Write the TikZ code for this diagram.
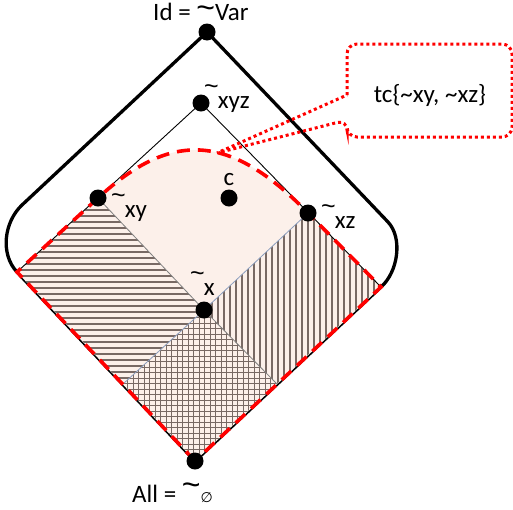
\documentclass[tikz,border=0pt]{standalone}
\usepackage{fontspec}
\setmainfont{Carlito}
\newfontfamily\djv{DejaVu Sans}
\newfontfamily\tfont{Liberation Sans}
\usetikzlibrary{calc}
\definecolor{fillpink}{RGB}{252,240,234}
\definecolor{hatchc}{RGB}{120,105,100}
\definecolor{edgeblue}{RGB}{140,158,190}
\newcommand\rtl{\raisebox{0.55em}{\tfont\textasciitilde}\kern-1pt}
\newcommand\bigtil[1]{{\tfont\fontsize{32}{32}\selectfont\smash{\raisebox{#1}{\textasciitilde}}}}
\begin{document}
\begin{tikzpicture}[x=1pt,y=-1pt,
  dot/.style={circle,fill=black,inner sep=0pt,minimum size=17pt},
  lbl/.style={inner sep=0pt,anchor=base west,font=\fontsize{25}{30}\selectfont},
  lattice/.style={line width=0.9pt,black},
  outer/.style={line width=3.3pt,black,line join=round},
  reddash/.style={line width=3.6pt,red,dash pattern=on 13pt off 8pt},
  hatch/.style={line width=1.2pt,hatchc},
  cross/.style={line width=0.9pt,hatchc},
  callout/.style={line width=3pt,red,dash pattern=on 3pt off 3pt}]
\useasboundingbox (0,0) rectangle (513,509);

\coordinate (B) at (195,461);
\coordinate (L) at (17,272);
\coordinate (R) at (381,287);
\coordinate (T) at (201,103);
\coordinate (XY) at (98,198);
\coordinate (XZ) at (308,213);
\coordinate (X) at (204,310);
\coordinate (I) at (207,32);
\coordinate (C) at (229,198);
\coordinate (Q1) at ($(X)+(L)-(XY)$);
\coordinate (Q2) at ($(X)+(R)-(XZ)$);
\coordinate (UL) at (22,205);
\coordinate (UR) at (388,222);
\coordinate (tip) at (217,153);

% outer thick rounded diamond
\draw[outer] (I) -- (UL) .. controls (4,222) and (0,254) .. (L) -- (B) -- (R)
  .. controls (398,272) and (403,238) .. (UR) -- cycle;

% filled region
\fill[fillpink] (B) -- (L) -- (XY) .. controls ($(XY)!0.72!(T)$) and ($(XZ)!0.72!(T)$) .. (XZ) -- (R) -- cycle;

% hatches
\begin{scope}
\clip (XY) -- (X) -- (Q1) -- (L) -- cycle;
\foreach \yy in {150,156,...,400} \draw[hatch] (0,\yy) -- (513,\yy);
\end{scope}
\begin{scope}
\clip (X) -- (XZ) -- (R) -- (Q2) -- cycle;
\foreach \xx in {200,206,...,400} \draw[hatch] (\xx,150) -- (\xx,420);
\end{scope}
\begin{scope}
\clip (X) -- (Q2) -- (B) -- (Q1) -- cycle;
\foreach \v in {100,105.5,...,300} \draw[cross] (\v,290) -- (\v,470);
\foreach \v in {290,295.5,...,470} \draw[cross] (100,\v) -- (300,\v);
\end{scope}
\draw[line width=0.8pt,gray] (XY) -- (X) -- (Q2);
\draw[line width=0.8pt,edgeblue] (XZ) -- (X) -- (Q1);

% lattice lines
\draw[lattice] (L) -- (T) -- (R);

% red dashed region border
\draw[reddash] (B) -- (L) -- (XY) .. controls ($(XY)!0.72!(T)$) and ($(XZ)!0.72!(T)$) .. (XZ) -- (R) -- cycle;

% callout
\draw[callout] (347,95) [rounded corners=10pt] -- (347,44) -- (512,44) -- (512,137) -- (347,137) -- (347,120) [sharp corners] -- (tip) -- (347,95);
\node[font=\fontsize{25}{30}\selectfont,anchor=base,inner sep=0pt] (tc) at (430,102) {tc\{\textasciitilde xy, \textasciitilde xz\}};

% dots
\node[dot] (nId) at (I) {};
\node[dot] (nAll) at (B) {};
\node[dot] (nxyz) at (T) {};
\node[dot] (nxy) at (XY) {};
\node[dot] (nxz) at (XZ) {};
\node[dot] (nx) at (X) {};
\node[dot] (nc) at (C) {};

% labels
\node[lbl] (lId) at (153,20) {Id = \bigtil{0.05em}Var};
\node[lbl] (lAll) at (132,502) {All = \bigtil{0.2em}{\djv\fontsize{14}{14}\selectfont ∅}};
\node[lbl] (lxyz) at (204,108) {\rtl xyz};
\node[lbl] (lxy) at (111,217) {\rtl xy};
\node[lbl] (lxz) at (321,228) {\rtl xz};
\node[lbl] (lx) at (190,295) {\rtl x};
\node[lbl,anchor=base] (lc) at (229,185) {c};
\end{tikzpicture}
\end{document}
